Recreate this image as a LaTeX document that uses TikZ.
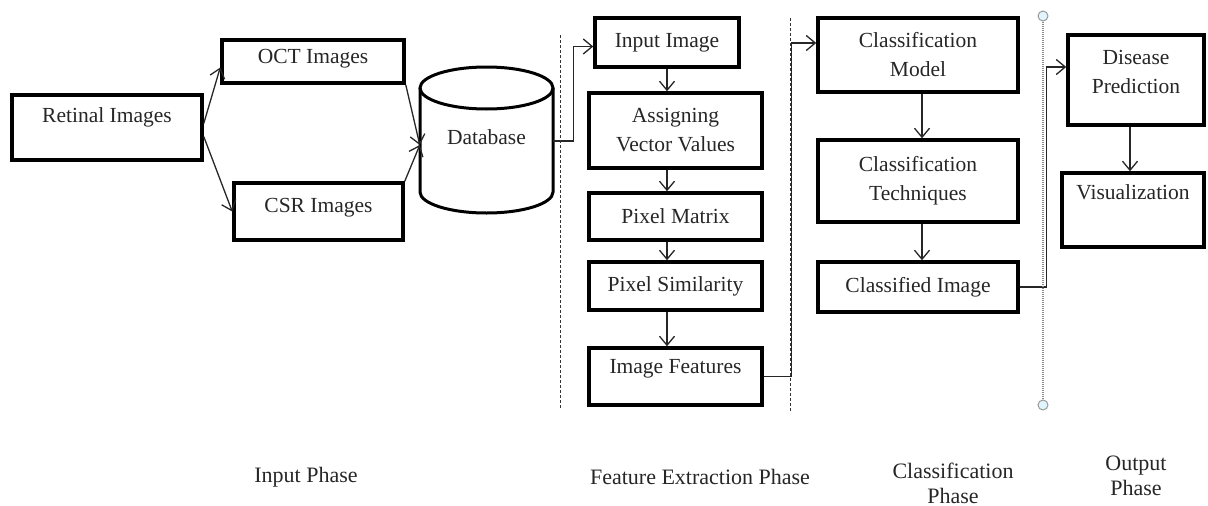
\documentclass[tikz,border=0pt]{standalone}
\usepackage{fontspec}
\setmainfont{Liberation Serif}
\usepackage{tikz}
\usetikzlibrary{arrows.meta}

\begin{document}
\begin{tikzpicture}[x=1pt,y=-1pt,
    box/.style={draw=black,line width=3.5pt,rectangle,inner sep=2pt,
        font=\fontsize{21.5}{29}\selectfont,align=center,text=black!85},
    arr/.style={draw=black!85,line width=1.3pt,
        -{Straight Barb[length=9pt,width=15pt,line width=1.3pt]}},
    phase/.style={font=\fontsize{22}{27}\selectfont,align=center,text=black!85},
    sep/.style={black!80,line width=1pt,dash pattern=on 3pt off 2pt}]
\useasboundingbox (0,0) rectangle (1208,506);

% input phase
\node[box,minimum width=190,minimum height=65,text depth=24pt] (retinal) at (107,127.5) {Retinal Images};
\node[box,minimum width=182,minimum height=43,text depth=11pt] (oct) at (313,61.5) {OCT Images};
\node[box,minimum width=169,minimum height=57,text depth=13pt] (csr) at (318.5,211.5) {CSR Images};

% database drum
\draw[line width=3pt] (420,88) -- (420,192) arc[start angle=180,end angle=0,x radius=66.5,y radius=21] -- (553,88);
\draw[line width=3pt] (486.5,88) ellipse[x radius=66.5,y radius=21];
\node[minimum width=133,minimum height=146,inner sep=0pt,
    font=\fontsize{21.5}{29}\selectfont,text=black!85,yshift=3pt] (db) at (486.5,140) {Database};

\draw[arr] ([yshift=4pt]retinal.east) -- ([yshift=-6pt]oct.west);
\draw[arr] ([yshift=-9pt]retinal.east) -- (csr.west);
\draw[arr] (oct.south east) -- ([yshift=-8pt]db.west);
\draw[arr] (csr.north east) -- ([yshift=-8pt]db.west);

% feature extraction phase
\node[box,minimum width=144,minimum height=49] (input) at (667,42.5) {Input Image};
\node[box,minimum width=173,minimum height=75] (assign) at (675.5,130.5) {Assigning\\Vector Values};
\node[box,minimum width=173,minimum height=47] (matrix) at (675.5,216.5) {Pixel Matrix};
\node[box,minimum width=173,minimum height=48] (simil) at (675.5,286) {Pixel Similarity};
\node[box,minimum width=173,minimum height=57,text depth=21pt] (feat) at (675.5,376.5) {Image Features};

\draw[arr] ([yshift=-4pt]db.east) -- ++(20,0) |- ([yshift=-4pt]input.west);
\draw[arr] (input.south) -- (input.south |- assign.north);
\draw[arr] (assign.south -| input.south) -- (matrix.north -| input.south);
\draw[arr] (matrix.south -| input.south) -- (simil.north -| input.south);
\draw[arr] (simil.south -| input.south) -- (feat.north -| input.south);

% classification phase
\node[box,minimum width=200,minimum height=74] (model) at (918,55) {Classification\\Model};
\node[box,minimum width=200,minimum height=82] (tech) at (918,181) {Classification\\Techniques};
\node[box,minimum width=200,minimum height=50] (classified) at (918,287) {Classified Image};

\draw[arr] (feat.east) -- ++(28,0) |- ([yshift=12pt]model.west);
\draw[arr] ([xshift=4pt]model.south) -- ([xshift=4pt]tech.north);
\draw[arr] ([xshift=4pt]tech.south) -- ([xshift=4pt]classified.north);

% output phase
\node[box,minimum width=136,minimum height=90,text depth=16pt] (predict) at (1136,80) {Disease\\Prediction};
\node[box,minimum width=142,minimum height=74,text depth=35pt] (visual) at (1133,210) {Visualization};

\draw[arr] (classified.east) -- ++(27,0) |- ([yshift=13pt]predict.west);
\draw[arr] ([xshift=-6pt]predict.south) -- ([xshift=-6pt]predict.south |- visual.north);

% phase separators
\draw[sep] (560,35) -- (560,408);
\draw[sep] (790,18) -- (790,412);
\draw[black!45,line width=1.2pt,dash pattern=on 1pt off 1pt] (1043,16) -- (1043,405);
\filldraw[fill=cyan!12,draw=black!40,line width=1pt] (1043,16) circle (5) (1043,405) circle (5);

% phase names
\node[phase] (phinput) at (306,477) {Input Phase};
\node[phase] (phfeat) at (700,477) {Feature Extraction Phase};
\node[phase] (phclass) at (953,483.5) {Classification\\[-2pt]Phase};
\node[phase] (phout) at (1136,476) {Output\\[-2pt]Phase};
\end{tikzpicture}
\end{document}
